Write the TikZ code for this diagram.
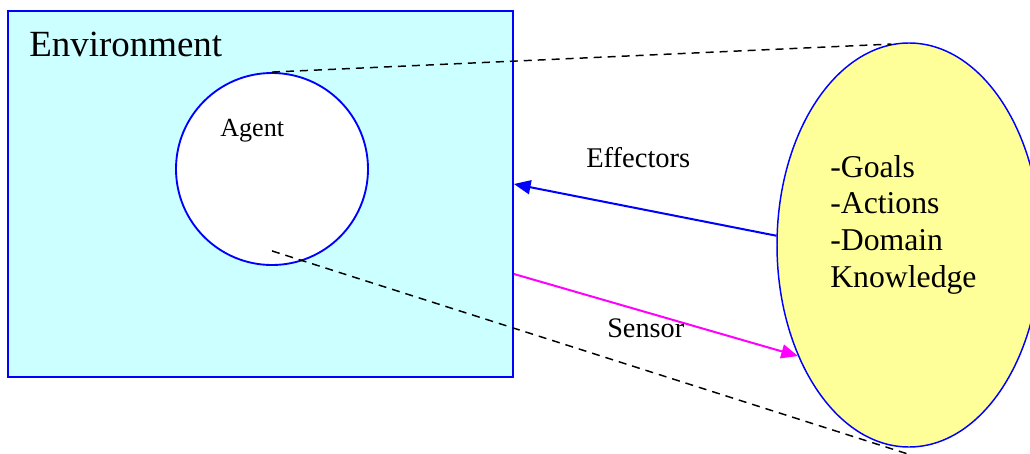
\documentclass[tikz,border=0pt]{standalone}
\usepackage{fontspec}
\setmainfont{Liberation Serif}
\usetikzlibrary{shapes.geometric,arrows.meta}
\definecolor{envcyan}{HTML}{CCFFFF}
\definecolor{kbyellow}{HTML}{FFFF99}
\definecolor{lineblue}{HTML}{0000FF}
\definecolor{sensmag}{HTML}{FF00FF}
\tikzset{
  envbox/.style={draw=lineblue, line width=1.4pt, fill=envcyan, rectangle, inner sep=0pt,
    minimum width=378.75pt, minimum height=274.5pt},
  agentcirc/.style={draw=lineblue, line width=1.4pt, fill=white, circle, inner sep=0pt,
    minimum size=144pt},
  kbellipse/.style={draw=lineblue, line width=1.1pt, fill=kbyellow, ellipse, inner sep=0pt,
    minimum width=198pt, minimum height=303pt},
  lbl/.style={inner sep=0pt, anchor=base west, text=black},
  proj/.style={draw=black, line width=1.1pt, dash pattern=on 6pt off 4.5pt},
  arr/.style={line width=1.5pt, -{Triangle[length=12.5pt,width=10.5pt]}}
}
\begin{document}
\begin{tikzpicture}[x=0.75pt,y=-0.75pt]
\clip (0,0) rectangle (1030,453);
\node[envbox] (env) at (260.5,194) {};
\node[lbl, font=\fontsize{27.7}{32}\selectfont] (envlbl) at (29,57) {Environment};
\node[agentcirc] (agent) at (272,169) {};
\node[lbl, font=\fontsize{19.6}{23}\selectfont] (agentlbl) at (220,136) {Agent};
\node[kbellipse] (kb) at (909,245) {};
\node[inner sep=0pt, anchor=north west, align=left,
  font=\fontsize{23.8}{27.5}\selectfont] (kblbl) at (830,155) {-Goals\\-Actions\\-Domain\\Knowledge};
\draw[proj] (agent.north) -- (kb.95.5);
\draw[proj] ([yshift=11.25pt]agent.south) -- ([xshift=-1.5pt,yshift=-4.5pt]kb.south);
\draw[arr, draw=lineblue, fill=lineblue] (kb.176) -- ([yshift=7.5pt]env.east);
\draw[arr, draw=sensmag, fill=sensmag] ([yshift=-60pt]env.east) -- (kb.225.5);
\node[lbl, font=\fontsize{21.4}{25}\selectfont] (efflbl) at (586,167) {Effectors};
\node[lbl, font=\fontsize{21.2}{25}\selectfont] (senslbl) at (607,337) {Sensor};
\end{tikzpicture}
\end{document}
